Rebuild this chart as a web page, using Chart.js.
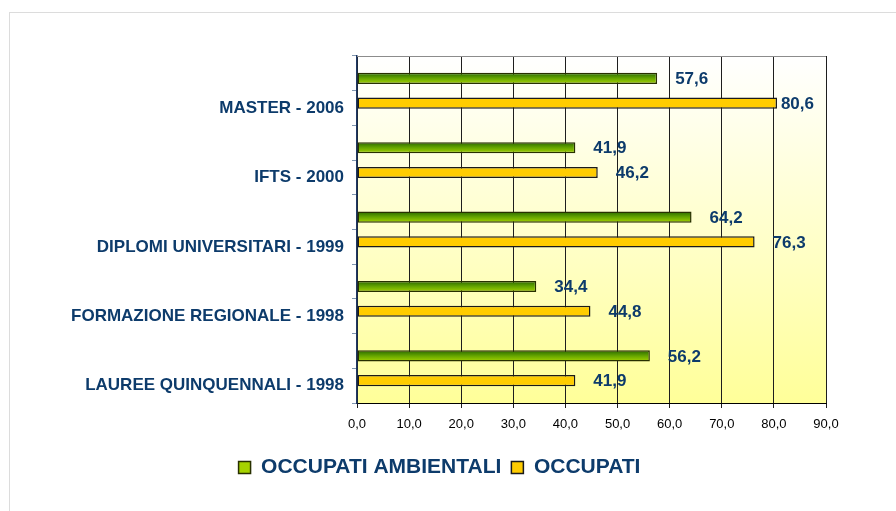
<!DOCTYPE html>
<html>
<head>
<meta charset="utf-8">
<script src="https://cdn.jsdelivr.net/npm/chart.js@4.4.1/dist/chart.umd.min.js"></script>
<style>
    html, body { margin: 0; padding: 0; background: #fff; }
    body { width: 896px; height: 511px; overflow: hidden; position: relative; }
    #cornice { position: absolute; left: 9px; top: 12px; width: 1000px; height: 600px; border: 1px solid #dcdcdc; }
    #box { position: absolute; left: 0; top: 0; width: 896px; height: 511px; }
</style>
</head>
<body>
<div id="cornice"></div>
<div id="box"><canvas id="grafico"></canvas></div>
<script>
const categorie = [
    "MASTER - 2006",
    "IFTS - 2000",
    "DIPLOMI UNIVERSITARI - 1999",
    "FORMAZIONE REGIONALE - 1998",
    "LAUREE QUINQUENNALI - 1998"
];
const occupatiAmbientali = [57.6, 41.9, 64.2, 34.4, 56.2];
const occupati = [80.6, 46.2, 76.3, 44.8, 41.9];
const tickAsseX = [0, 10, 20, 30, 40, 50, 60, 70, 80, 90];

const BLU = "#0d3b6b";
const CAT_PCT = 0.713;
const BAR_PCT = 0.45;

Chart.defaults.font.family = '"Liberation Sans", Arial, sans-serif';

// etichette dell'asse: una riga vuota e una col nome, come nel grafico originale
const etichetteAsse = [];
categorie.forEach(c => { etichetteAsse.push(""); etichetteAsse.push(c); });

function formatta(v) {
    return v.toFixed(1).replace(".", ",");
}

function sfumaturaVerde(c) {
    const chart = c.chart;
    const y = chart.scales.y;
    if (c.dataIndex === undefined || !y || !chart.chartArea) return "#4f9000";
    const passo = y.getPixelForValue(1) - y.getPixelForValue(0);
    const slot = passo * CAT_PCT / 2;
    const h = slot * BAR_PCT;
    const centro = y.getPixelForValue(c.dataIndex) - slot / 2;
    const g = chart.ctx.createLinearGradient(0, centro - h / 2, 0, centro + h / 2);
    g.addColorStop(0, "#286800");
    g.addColorStop(0.5, "#66a600");
    g.addColorStop(1, "#a6d300");
    return g;
}

const sfondo = {
    id: "sfondo",
    beforeDraw(chart) {
        const { ctx, chartArea: a } = chart;
        const g = ctx.createLinearGradient(0, a.top, 0, a.bottom);
        g.addColorStop(0, "#ffffff");
        g.addColorStop(1, "#ffff99");
        ctx.save();
        ctx.fillStyle = g;
        ctx.fillRect(a.left, a.top, a.right - a.left, a.bottom - a.top);
        ctx.restore();
    },
    beforeDatasetsDraw(chart) {
        const { ctx, chartArea: a } = chart;
        ctx.save();
        ctx.strokeStyle = "#8c8c8c";
        ctx.lineWidth = 1;
        ctx.beginPath();
        ctx.moveTo(a.left, a.top + 0.5);
        ctx.lineTo(a.right, a.top + 0.5);
        ctx.stroke();
        ctx.restore();
    }
};

const etichette = {
    id: "etichette",
    afterDatasetsDraw(chart) {
        const ctx = chart.ctx;
        const a = chart.chartArea;
        ctx.save();
        ctx.font = 'bold 17px "Liberation Sans", Arial, sans-serif';
        ctx.fillStyle = BLU;
        ctx.textBaseline = "middle";
        ctx.textAlign = "left";
        chart.data.datasets.forEach((ds, i) => {
            chart.getDatasetMeta(i).data.forEach((bar, j) => {
                const testo = formatta(ds.data[j]);
                const w = ctx.measureText(testo).width;
                const x = Math.min(bar.x + 18, a.right - w - 12);
                ctx.fillText(testo, x, bar.y + 1);
            });
        });
        ctx.restore();
    }
};

new Chart(document.getElementById("grafico"), {
    type: "bar",
    data: {
        labels: categorie,
        datasets: [
            {
                label: "OCCUPATI AMBIENTALI",
                data: occupatiAmbientali,
                backgroundColor: sfumaturaVerde,
                borderColor: "#283000",
                borderWidth: 1.5,
                borderSkipped: false
            },
            {
                label: "OCCUPATI",
                data: occupati,
                backgroundColor: "#ffcc00",
                borderColor: "#1a1a1a",
                borderWidth: 1.5,
                borderSkipped: false
            }
        ]
    },
    options: {
        indexAxis: "y",
        responsive: true,
        maintainAspectRatio: false,
        animation: false,
        categoryPercentage: CAT_PCT,
        barPercentage: BAR_PCT,
        layout: { padding: { left: 53, right: 70, top: 56, bottom: 23 } },
        scales: {
            x: {
                min: 0,
                max: 90,
                afterBuildTicks: s => { s.ticks = tickAsseX.map(v => ({ value: v })); },
                afterFit: s => { s.height = 44; },
                grid: { color: "#1e1e1e", lineWidth: 1, tickLength: 5 },
                border: { color: "#000" },
                ticks: {
                    callback: v => formatta(v),
                    color: "#000",
                    font: { size: 13 },
                    padding: 9,
                    maxRotation: 0
                }
            },
            y: {
                type: "category",
                display: false,
                offset: true
            },
            y2: {
                type: "category",
                position: "left",
                labels: etichetteAsse,
                offset: true,
                afterFit: s => { s.width = 304; },
                grid: { offset: true, drawOnChartArea: false, tickLength: 5, color: "#8096b0" },
                border: { color: "#1f3864", width: 1.5 },
                ticks: {
                    autoSkip: false,
                    color: BLU,
                    font: { size: 17, weight: "bold" },
                    padding: 8
                }
            }
        },
        plugins: {
            legend: {
                position: "bottom",
                labels: {
                    boxWidth: 12,
                    boxHeight: 12,
                    padding: 10,
                    color: BLU,
                    font: { size: 21, weight: "bold" }
                }
            },
            tooltip: { enabled: false }
        }
    },
    plugins: [sfondo, etichette]
});
</script>
</body>
</html>
